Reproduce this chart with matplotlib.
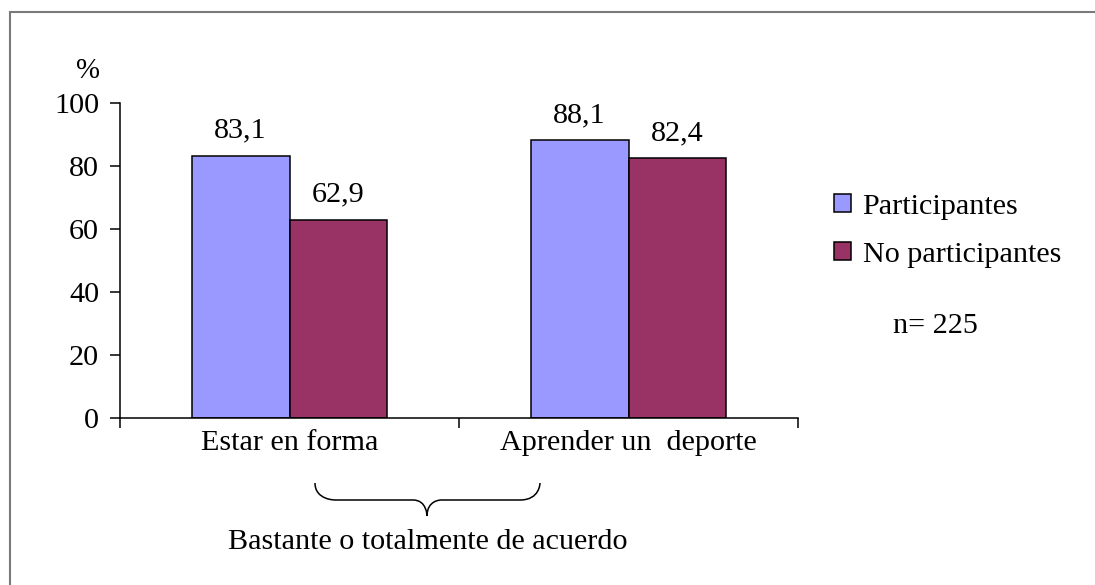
import matplotlib
matplotlib.use("Agg")
import matplotlib.pyplot as plt
from matplotlib.path import Path
from matplotlib.patches import PathPatch, Rectangle
import numpy as np

categories = ["Estar en forma", "Aprender un  deporte"]
participantes = [83.1, 88.1]
no_participantes = [62.9, 82.4]
series_names = ["Participantes", "No participantes"]
value_labels_p = ["83,1", "88,1"]
value_labels_np = ["62,9", "82,4"]
yticks = [0, 20, 40, 60, 80, 100]

W, H = 1095, 585
DPI = 100
plt.rcParams["font.family"] = ["Liberation Serif", "DejaVu Serif"]
FS = 21.7

fig = plt.figure(figsize=(W / DPI, H / DPI), dpi=DPI)


def fx(px):
    return px / W


def fy(py):
    return 1 - py / H


# outer frame
fig.patches.append(Rectangle((fx(10), fy(620)), fx(1200), fy(12) - fy(620),
                             transform=fig.transFigure, fill=False,
                             edgecolor="#7a7a7a", linewidth=1.5))

ax = fig.add_axes([fx(120), fy(418), fx(798) - fx(120), fy(103) - fy(418)])

x = np.arange(len(categories))
bw = 0.289
c_p = "#9999FF"
c_np = "#993366"
b1 = ax.bar(x - bw / 2, participantes, bw, color=c_p, edgecolor="black",
            linewidth=1.1, label=series_names[0])
b2 = ax.bar(x + bw / 2, no_participantes, bw, color=c_np, edgecolor="black",
            linewidth=1.1, label=series_names[1])

for xi, v, t in zip(x - bw / 2, participantes, value_labels_p):
    ax.annotate(t, (xi, v), xytext=(0, 9), textcoords="offset points",
                ha="center", va="bottom", fontsize=FS)
for xi, v, t in zip(x + bw / 2, no_participantes, value_labels_np):
    ax.annotate(t, (xi, v), xytext=(0, 9), textcoords="offset points",
                ha="center", va="bottom", fontsize=FS)

ax.set_xlim(-0.5, 1.5)
ax.set_ylim(0, 100)
ax.set_yticks(yticks)
ax.set_yticklabels([str(t) for t in yticks], fontsize=FS)
ax.set_xticks([-0.5, 0.5, 1.5])
ax.set_xticklabels([])
ax.set_xticks(x, minor=True)
ax.set_xticklabels(categories, minor=True, fontsize=FS)
ax.tick_params(axis="x", which="minor", length=0, pad=8.5)
ax.tick_params(axis="x", which="major", direction="out", length=7, width=1.1)
ax.tick_params(axis="y", direction="out", length=7, width=1.1, pad=8)
for s in ["top", "right"]:
    ax.spines[s].set_visible(False)
for s in ["left", "bottom"]:
    ax.spines[s].set_linewidth(1.1)

fig.text(fx(88), fy(71), "%", ha="center", va="center", fontsize=FS - 1)

leg = fig.legend(handles=[b1, b2], labels=series_names, loc="upper left",
                 bbox_to_anchor=(fx(834), fy(194)), frameon=False,
                 fontsize=FS, handlelength=0.55, handleheight=0.55,
                 handletextpad=0.4, labelspacing=0.72, borderpad=0,
                 borderaxespad=0)

fig.text(fx(935), fy(326), "n= 225", ha="center", va="center", fontsize=FS)

# brace grouping both categories
x0, x1, xm = fx(315), fx(540), fx(427)
yt, yb, ytip = fy(483), fy(500), fy(516)
dx = fx(20)
verts = [
    (x0, yt), (x0, yb), (x0 + dx, yb), (x0 + dx, yb),
    (xm - dx * 0.7, yb),
    (xm, yb), (xm, ytip), (xm, ytip),
    (xm, yb), (xm + dx * 0.7, yb), (xm + dx * 0.7, yb),
    (x1 - dx, yb),
    (x1, yb), (x1, yt), (x1, yt),
]
codes = [Path.MOVETO, Path.CURVE4, Path.CURVE4, Path.CURVE4,
         Path.LINETO,
         Path.CURVE4, Path.CURVE4, Path.CURVE4,
         Path.CURVE4, Path.CURVE4, Path.CURVE4,
         Path.LINETO,
         Path.CURVE4, Path.CURVE4, Path.CURVE4]
fig.patches.append(PathPatch(Path(verts, codes), transform=fig.transFigure,
                             fill=False, edgecolor="black", linewidth=1.1))

fig.text(fx(428), fy(542), "Bastante o totalmente de acuerdo", ha="center",
         va="center", fontsize=FS)

fig.savefig("out.png", dpi=DPI)
